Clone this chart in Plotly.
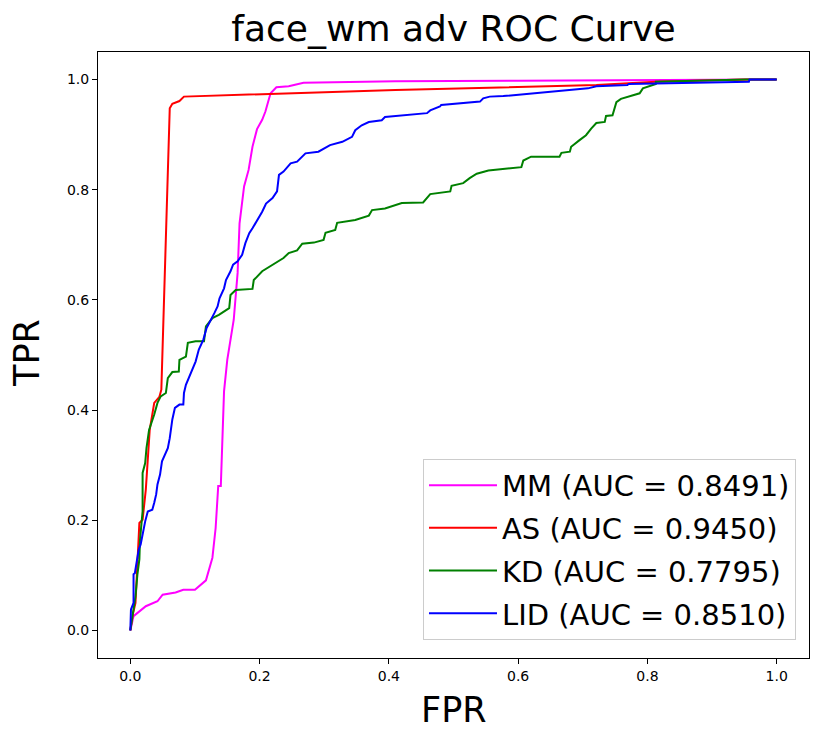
import plotly.graph_objects as go

# ---- data ----
mm_fpr = [0, 0.005, 0.024, 0.042, 0.05, 0.07, 0.082, 0.1, 0.117, 0.127, 0.132, 0.136, 0.14, 0.142,
          0.145, 0.15, 0.155, 0.16, 0.166, 0.169, 0.176, 0.183, 0.189, 0.196, 0.204, 0.209, 0.214,
          0.217, 0.226, 0.245, 0.268, 0.41, 0.6, 0.952, 1.0]
mm_tpr = [0, 0.026, 0.044, 0.053, 0.065, 0.069, 0.074, 0.074, 0.091, 0.132, 0.186, 0.262, 0.262, 0.346,
          0.434, 0.491, 0.528, 0.564, 0.649, 0.739, 0.806, 0.836, 0.878, 0.91, 0.927, 0.942, 0.963,
          0.975, 0.986, 0.988, 0.994, 0.997, 0.998, 1.0, 1.0]

as_fpr = [0, 0.004, 0.008, 0.014, 0.019, 0.024, 0.030, 0.037, 0.045, 0.048, 0.061, 0.065, 0.076,
          0.083, 0.41, 0.721, 0.813, 0.952, 1.0]
as_tpr = [0, 0.03, 0.05, 0.195, 0.201, 0.256, 0.364, 0.413, 0.424, 0.437, 0.948, 0.956, 0.961,
          0.969, 0.981, 0.990, 0.996, 1.0, 1.0]

kd_fpr = [0, 0.004, 0.008, 0.011, 0.014, 0.015, 0.019, 0.019, 0.023, 0.025, 0.029, 0.037, 0.042,
          0.047, 0.055, 0.058, 0.065, 0.075, 0.076, 0.086, 0.089, 0.101, 0.114, 0.117, 0.127, 0.137,
          0.153, 0.155, 0.163, 0.189, 0.191, 0.204, 0.212, 0.222, 0.237, 0.245, 0.258, 0.266, 0.284,
          0.299, 0.302, 0.317, 0.320, 0.348, 0.369, 0.374, 0.394, 0.42, 0.453, 0.464, 0.495, 0.497,
          0.515, 0.525, 0.536, 0.554, 0.584, 0.605, 0.608, 0.620, 0.664, 0.667, 0.680, 0.682, 0.695,
          0.705, 0.713, 0.721, 0.734, 0.736, 0.746, 0.752, 0.759, 0.775, 0.788, 0.793, 0.803, 0.813,
          0.813, 0.88, 0.952, 0.953, 1.0]
kd_tpr = [0, 0.032, 0.062, 0.102, 0.129, 0.165, 0.216, 0.286, 0.304, 0.331, 0.364, 0.392, 0.413,
          0.425, 0.431, 0.458, 0.469, 0.470, 0.491, 0.497, 0.522, 0.525, 0.525, 0.552, 0.567, 0.573,
          0.585, 0.609, 0.618, 0.620, 0.636, 0.652, 0.658, 0.666, 0.676, 0.685, 0.690, 0.702, 0.704,
          0.709, 0.722, 0.727, 0.740, 0.745, 0.753, 0.763, 0.766, 0.776, 0.777, 0.792, 0.797, 0.807,
          0.812, 0.821, 0.829, 0.835, 0.839, 0.841, 0.853, 0.860, 0.860, 0.867, 0.869, 0.878, 0.890,
          0.899, 0.911, 0.921, 0.923, 0.934, 0.935, 0.959, 0.965, 0.971, 0.975, 0.984, 0.988, 0.992,
          0.996, 0.998, 0.999, 1.0, 1.0]

lid_fpr = [0, 0.001, 0.005, 0.005, 0.007, 0.010, 0.013, 0.016, 0.019, 0.023, 0.027, 0.034, 0.037,
           0.040, 0.042, 0.046, 0.049, 0.055, 0.058, 0.061, 0.065, 0.069, 0.076, 0.082, 0.083, 0.086,
           0.091, 0.096, 0.101, 0.106, 0.113, 0.118, 0.124, 0.130, 0.135, 0.138, 0.145, 0.148, 0.155,
           0.159, 0.166, 0.173, 0.178, 0.184, 0.189, 0.194, 0.199, 0.204, 0.210, 0.220, 0.227, 0.230,
           0.237, 0.243, 0.248, 0.258, 0.263, 0.271, 0.291, 0.309, 0.328, 0.343, 0.348, 0.358, 0.369,
           0.389, 0.394, 0.438, 0.459, 0.464, 0.479, 0.481, 0.513, 0.541, 0.546, 0.556, 0.577, 0.633,
           0.669, 0.708, 0.721, 0.769, 0.771, 0.885, 0.957, 0.958, 1.0]
lid_tpr = [0, 0.038, 0.05, 0.102, 0.104, 0.129, 0.147, 0.156, 0.177, 0.198, 0.216, 0.219, 0.232,
           0.247, 0.265, 0.283, 0.307, 0.322, 0.331, 0.349, 0.383, 0.404, 0.410, 0.410, 0.431, 0.446,
           0.461, 0.473, 0.488, 0.510, 0.528, 0.549, 0.564, 0.576, 0.588, 0.603, 0.621, 0.636, 0.652,
           0.664, 0.670, 0.682, 0.703, 0.721, 0.730, 0.740, 0.748, 0.760, 0.775, 0.785, 0.797, 0.827,
           0.833, 0.842, 0.848, 0.851, 0.857, 0.866, 0.869, 0.881, 0.887, 0.896, 0.908, 0.917, 0.923,
           0.926, 0.932, 0.936, 0.939, 0.944, 0.951, 0.954, 0.957, 0.960, 0.966, 0.969, 0.970, 0.976,
           0.981, 0.984, 0.988, 0.990, 0.992, 0.994, 0.996, 1.0, 1.0]

series_names = ["MM (AUC = 0.8491)", "AS (AUC = 0.9450)", "KD (AUC = 0.7795)", "LID (AUC = 0.8510)"]
series_colors = ["#ff00ff", "#ff0000", "#008000", "#0000ff"]
tick_vals = [0.0, 0.2, 0.4, 0.6, 0.8, 1.0]
tick_text = ["0.0", "0.2", "0.4", "0.6", "0.8", "1.0"]

FONT = "DejaVu Sans"

fig = go.Figure()
for i, (xs, ys) in enumerate([(mm_fpr, mm_tpr), (as_fpr, as_tpr), (kd_fpr, kd_tpr), (lid_fpr, lid_tpr)]):
    fig.add_trace(go.Scatter(x=xs, y=ys, mode="lines", name=series_names[i],
                             legendgroup=f"g{i}",
                             line=dict(color=series_colors[i], width=2)))

axis_common = dict(range=[-0.05, 1.05], showgrid=False, zeroline=False, showline=True,
                   linecolor="black", linewidth=1, mirror=True, ticks="outside", ticklen=5,
                   tickwidth=1, tickcolor="black", tickvals=tick_vals, ticktext=tick_text,
                   tickfont=dict(family=FONT, size=14, color="black"))

fig.update_layout(
    width=830, height=745,
    margin=dict(l=90, r=29, t=44, b=95),
    paper_bgcolor="white", plot_bgcolor="white",
    font=dict(family=FONT, color="black"),
    xaxis=axis_common,
    yaxis=axis_common,
    title=dict(text="face_wm adv ROC Curve", x=0.5, xref="paper", y=1 - 20 / 745,
               yref="container", xanchor="center", yanchor="middle",
               font=dict(family=FONT, size=36, color="black")),
    legend=dict(x=0.9817, y=0.03, xanchor="right", yanchor="bottom",
                bgcolor="rgba(255,255,255,0.8)", bordercolor="#cccccc", borderwidth=1,
                font=dict(family=FONT, size=29, color="black"), tracegroupgap=2,
                itemwidth=68),
    showlegend=True,
    annotations=[
        dict(text="FPR", x=0.5, y=(658 - 710) / 606, xref="paper", yref="paper",
             xanchor="center", yanchor="middle", showarrow=False,
             font=dict(family=FONT, size=35, color="black")),
        dict(text="TPR", x=(27 - 98) / 711, y=(658 - 353) / 606, xref="paper", yref="paper",
             xanchor="center", yanchor="middle", showarrow=False, textangle=-90,
             font=dict(family=FONT, size=35, color="black")),
    ],
)

fig.write_html("out.html")
